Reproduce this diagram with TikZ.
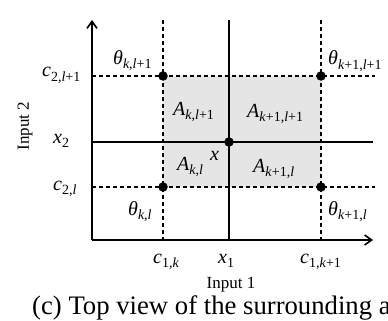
\documentclass[tikz,border=0pt]{standalone}
\usepackage{fontspec}
\setmainfont{Liberation Serif}
\usetikzlibrary{arrows.meta}
\newcommand\ix[2]{\textit{#1}\raisebox{-4.5pt}{\fontsize{14}{16}\selectfont #2}}
\begin{document}
\begin{tikzpicture}[x=1pt,y=-1pt,
  axis/.style={line width=1.8pt,-{Straight Barb[length=7pt,width=10pt,line width=1.6pt]}},
  gridsolid/.style={line width=1.2pt},
  griddash/.style={line width=1.2pt,dash pattern=on 4pt off 3pt},
  dot/.style={circle,fill=black,inner sep=0pt,minimum size=9.5pt},
  lbl/.style={inner sep=0pt,anchor=base west,font=\fontsize{20}{24}\selectfont},
  txt/.style={inner sep=0pt,font=\fontsize{17}{20}\selectfont},
  captionstyle/.style={inner sep=0pt,anchor=base west,font=\fontsize{26.7}{30}\selectfont}]
\useasboundingbox (0,0) rectangle (388,321);
% coordinates
\coordinate (O) at (92,240);
\coordinate (Ytop) at (92,20);
\coordinate (Xend) at (373,240);
\coordinate (k1top) at (163,20);  \coordinate (k1bot) at (163,240);
\coordinate (k2top) at (321,20);  \coordinate (k2bot) at (321,240);
\coordinate (x1top) at (229,20);  \coordinate (x1bot) at (229,240);
\coordinate (l2left) at (92,76);  \coordinate (l2right) at (375,76);
\coordinate (x2left) at (92,142); \coordinate (x2right) at (373,142);
\coordinate (l1left) at (92,187); \coordinate (l1right) at (375,187);
% shaded cell
\fill[black!10] (163,76) rectangle (321,187);
% grid
\draw[griddash] (k1top) -- (k1bot);
\draw[griddash] (k2top) -- (k2bot);
\draw[griddash] (l2left) -- (l2right);
\draw[griddash] (l1left) -- (l1right);
\draw[gridsolid] (x1top) -- (x1bot);
\draw[gridsolid] (x2left) -- (x2right);
% axes
\draw[axis] (O) -- (Ytop);
\draw[axis] (O) -- (Xend);
% dots
\node[dot] (tkl1) at (163,76) {};
\node[dot] (tk1l1) at (321,76) {};
\node[dot] (tkl) at (163,187) {};
\node[dot] (tk1l) at (321,187) {};
\node[dot] (xp) at (229,142) {};
% labels
\node[lbl] (Ltkl1) at (113,64) {\ix{θ}{\textit{k},\textit{l}+1}};
\node[lbl] (Ltk1l1) at (328,65) {\ix{θ}{\textit{k}+1,\textit{l}+1}};
\node[lbl] (Ltkl) at (128,215) {\ix{θ}{\textit{k},\textit{l}}};
\node[lbl] (Ltk1l) at (328,215) {\ix{θ}{\textit{k}+1,\textit{l}}};
\node[lbl] (Lc2l1) at (42,77) {\ix{c}{2,\textit{l}+1}};
\node[lbl] (Lx2) at (53,143) {\ix{x}{2}};
\node[lbl] (Lc2l) at (53,190) {\ix{c}{2,\textit{l}}};
\node[lbl] (Lc1k) at (153,263) {\ix{c}{1,\textit{k}}};
\node[lbl] (Lx1) at (218,263) {\ix{x}{1}};
\node[lbl] (Lc1k1) at (300,263) {\ix{c}{1,\textit{k}+1}};
\node[txt,anchor=base] (In1) at (231,288) {Input 1};
\node[txt,anchor=center,rotate=90] (In2) at (25,126) {Input 2};
\node[lbl] (Akl1) at (173,115) {\ix{A}{\textit{k},\textit{l}+1}};
\node[lbl] (Ak1l1) at (247,117) {\ix{A}{\textit{k}+1,\textit{l}+1}};
\node[lbl] (Akl) at (177,170) {\ix{A}{\textit{k},\textit{l}}};
\node[lbl] (Ak1l) at (253,172) {\ix{A}{\textit{k}+1,\textit{l}}};
\node[lbl] (Lx) at (210,160) {\textit{x}};
\node[captionstyle] (caption) at (32,314) {(c) Top view of the surrounding a};
\end{tikzpicture}
\end{document}
